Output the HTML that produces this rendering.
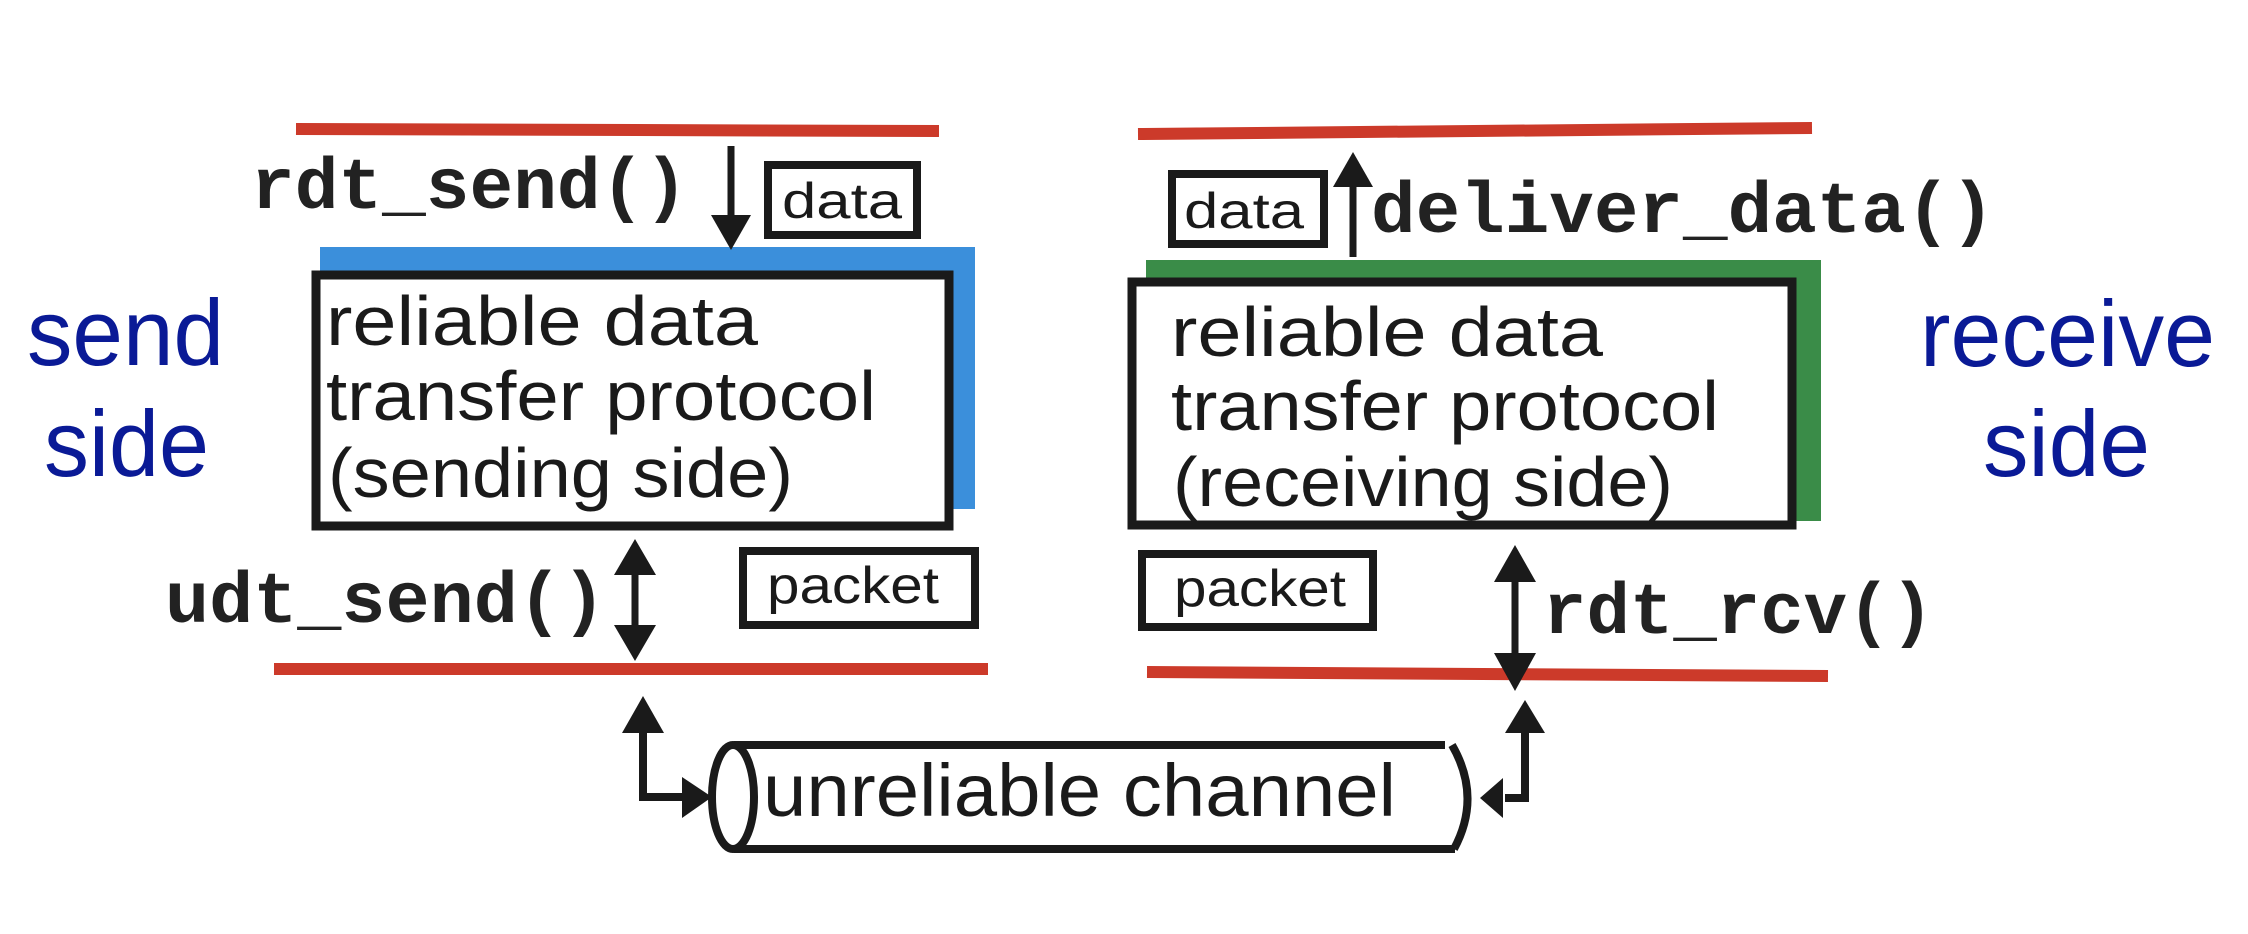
<!DOCTYPE html>
<html><head><meta charset="utf-8"><style>
html,body{margin:0;padding:0;background:#fff;}
svg{display:block;}
.m{font-family:"Liberation Mono",monospace;font-weight:bold;fill:#222;}
.s{font-family:"Liberation Sans",sans-serif;fill:#1a1a1a;}
.b{font-family:"Liberation Sans",sans-serif;fill:#0a1a96;}
</style></head><body>
<svg width="2248" height="934" viewBox="0 0 2248 934" xmlns="http://www.w3.org/2000/svg">
<!-- red lines -->
<line x1="296" y1="129" x2="939" y2="131" stroke="#cc3a2a" stroke-width="12"/>
<line x1="1138" y1="134" x2="1812" y2="128" stroke="#cc3a2a" stroke-width="12"/>
<line x1="274" y1="669" x2="988" y2="669" stroke="#cc3a2a" stroke-width="12"/>
<line x1="1147" y1="672" x2="1828" y2="676" stroke="#cc3a2a" stroke-width="12"/>

<!-- left box -->
<rect x="320" y="247" width="655" height="262" fill="#3b8fdb"/>
<rect x="316" y="275" width="633" height="251" fill="#fff" stroke="#1a1a1a" stroke-width="9"/>
<text class="s" x="326" y="345" font-size="70" textLength="432" lengthAdjust="spacingAndGlyphs">reliable data</text>
<text class="s" x="326" y="420" font-size="70" textLength="550" lengthAdjust="spacingAndGlyphs">transfer protocol</text>
<text class="s" x="328" y="497" font-size="70" textLength="465" lengthAdjust="spacingAndGlyphs">(sending side)</text>

<!-- right box -->
<rect x="1146" y="260" width="675" height="261" fill="#3a8c48"/>
<rect x="1132" y="282" width="660" height="243" fill="#fff" stroke="#1a1a1a" stroke-width="9"/>
<text class="s" x="1171" y="356" font-size="70" textLength="432" lengthAdjust="spacingAndGlyphs">reliable data</text>
<text class="s" x="1171" y="430" font-size="70" textLength="548" lengthAdjust="spacingAndGlyphs">transfer protocol</text>
<text class="s" x="1173" y="506" font-size="70" textLength="500" lengthAdjust="spacingAndGlyphs">(receiving side)</text>

<!-- side labels -->
<text class="b" x="27" y="365" font-size="94" textLength="197" lengthAdjust="spacingAndGlyphs">send</text>
<text class="b" x="44" y="476" font-size="94" textLength="165" lengthAdjust="spacingAndGlyphs">side</text>
<text class="b" x="1920" y="366" font-size="94" textLength="295" lengthAdjust="spacingAndGlyphs">receive</text>
<text class="b" x="1983" y="476" font-size="94" textLength="167" lengthAdjust="spacingAndGlyphs">side</text>

<!-- function labels -->
<text class="m" x="251" y="208" font-size="72" textLength="437" lengthAdjust="spacingAndGlyphs">rdt_send()</text>
<text class="m" x="165" y="622" font-size="72" textLength="441" lengthAdjust="spacingAndGlyphs">udt_send()</text>
<text class="m" x="1371" y="232" font-size="72" textLength="624" lengthAdjust="spacingAndGlyphs">deliver_data()</text>
<text class="m" x="1543" y="633" font-size="72" textLength="391" lengthAdjust="spacingAndGlyphs">rdt_rcv()</text>

<!-- data / packet boxes -->
<rect x="768" y="165" width="149" height="70" fill="#fff" stroke="#1a1a1a" stroke-width="8"/>
<text class="s" x="782" y="218" font-size="50" textLength="120" lengthAdjust="spacingAndGlyphs">data</text>
<rect x="1172" y="174" width="152" height="70" fill="#fff" stroke="#1a1a1a" stroke-width="8"/>
<text class="s" x="1184" y="228" font-size="50" textLength="120" lengthAdjust="spacingAndGlyphs">data</text>
<rect x="743" y="551" width="232" height="74" fill="#fff" stroke="#1a1a1a" stroke-width="8"/>
<text class="s" x="767" y="603" font-size="52" textLength="172" lengthAdjust="spacingAndGlyphs">packet</text>
<rect x="1142" y="554" width="231" height="73" fill="#fff" stroke="#1a1a1a" stroke-width="8"/>
<text class="s" x="1174" y="606" font-size="52" textLength="172" lengthAdjust="spacingAndGlyphs">packet</text>

<!-- arrows -->
<g fill="#1a1a1a" stroke="#1a1a1a">
<line x1="731" y1="146" x2="731" y2="220" stroke-width="7"/>
<polygon points="711,215 751,215 731,250" stroke="none"/>
<line x1="1353" y1="185" x2="1353" y2="257" stroke-width="7"/>
<polygon points="1333,187 1373,187 1353,152" stroke="none"/>
<line x1="635" y1="560" x2="635" y2="640" stroke-width="7"/>
<polygon points="614,575 656,575 635,539" stroke="none"/>
<polygon points="614,625 656,625 635,661" stroke="none"/>
<line x1="1515" y1="570" x2="1515" y2="665" stroke-width="7"/>
<polygon points="1494,582 1536,582 1515,545" stroke="none"/>
<polygon points="1494,653 1536,653 1515,691" stroke="none"/>
<polyline points="643,725 643,797 690,797" fill="none" stroke-width="8"/>
<polygon points="622,733 664,733 643,696" stroke="none"/>
<polygon points="682,777 682,818 712,797" stroke="none"/>
<polyline points="1525,730 1525,798 1505,798" fill="none" stroke-width="8"/>
<polygon points="1505,733 1545,733 1525,700" stroke="none"/>
<polygon points="1503,778 1503,818 1480,798" stroke="none"/>
</g>

<!-- channel -->
<line x1="734" y1="745" x2="1445" y2="745" stroke="#1a1a1a" stroke-width="8"/>
<line x1="734" y1="849" x2="1455" y2="849" stroke="#1a1a1a" stroke-width="8"/>
<ellipse cx="733" cy="797" rx="21" ry="52" fill="#fff" stroke="#1a1a1a" stroke-width="8"/>
<path d="M1452,745 Q1482,797 1454,849" fill="none" stroke="#1a1a1a" stroke-width="8"/>
<text class="s" x="763" y="816" font-size="74" textLength="633" lengthAdjust="spacingAndGlyphs">unreliable channel</text>
</svg>
</body></html>
